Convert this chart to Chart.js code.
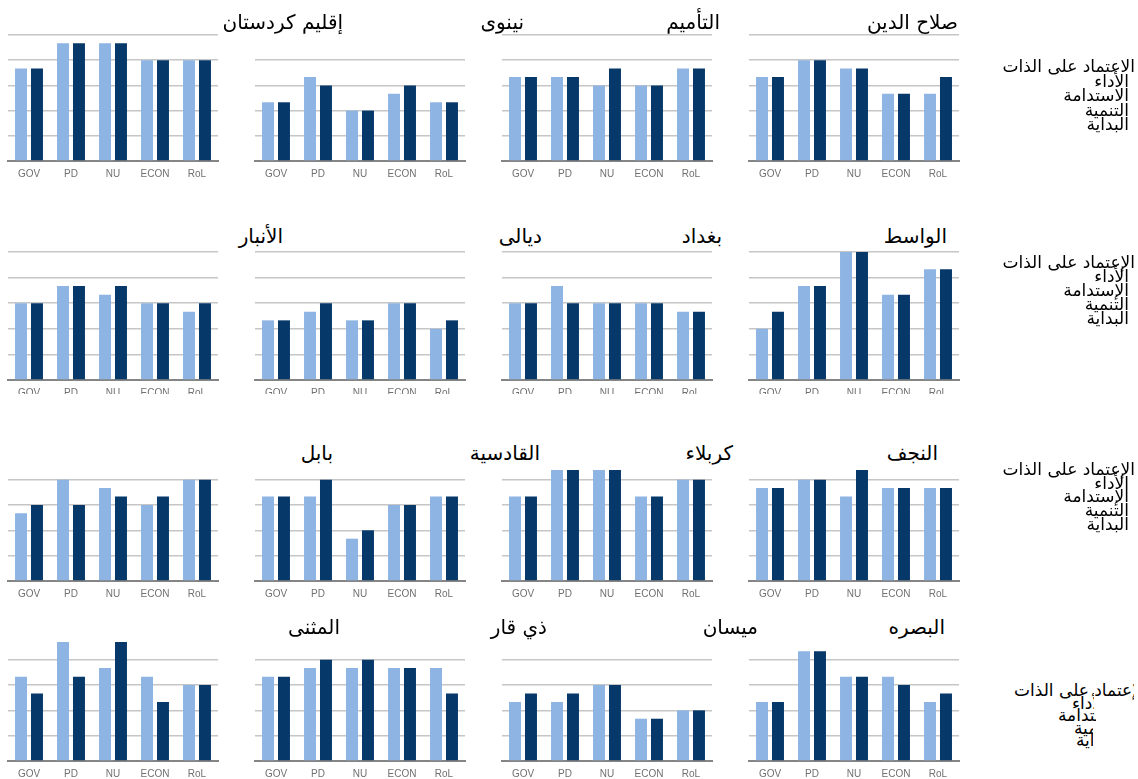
<!DOCTYPE html>
<html>
<head>
<meta charset="utf-8">
<script src="https://cdn.jsdelivr.net/npm/chart.js@4"></script>
<style>
  body { margin:0; width:1138px; height:779px; background:#fff; position:relative; overflow:hidden;
         font-family:"DejaVu Sans", sans-serif; }
  .panel { position:absolute; overflow:hidden; }
  .title { position:absolute; direction:rtl; white-space:nowrap; font-size:20px; color:#000; line-height:24px; }
  .leg   { position:absolute; white-space:nowrap; font-size:17px; color:#000; overflow:hidden; height:20px; }
  .leg span { position:absolute; top:0; line-height:20px; direction:rtl; }
</style>
</head>
<body>
<script>
/* ===== data ===== */
const categories = ["GOV", "PD", "NU", "ECON", "RoL"];

// each row: 4 panels, left -> right
const row1Light = [[3.67,4.67,4.67,4,4],[2.33,3.33,2,2.67,2.33],[3.33,3.33,3,3,3.67],[3.33,4,3.67,2.67,2.67]];
const row1Dark  = [[3.67,4.67,4.67,4,4],[2.33,3,2,3,2.33],[3.33,3.33,3.67,3,3.67],[3.33,4,3.67,2.67,3.33]];
const row2Light = [[3,3.67,3.33,3,2.67],[2.33,2.67,2.33,3,2],[3,3.67,3,3,2.67],[2,3.67,5,3.33,4.33]];
const row2Dark  = [[3,3.67,3.67,3,3],[2.33,3,2.33,3,2.33],[3,3,3,3,2.67],[2.67,3.67,5,3.33,4.33]];
const row3Light = [[2.67,4,3.67,3,4],[3.33,3.33,1.67,3,3.33],[3.33,4.67,4.67,3.33,4],[3.67,4,3.33,3.67,3.67]];
const row3Dark  = [[3,3,3.33,3.33,4],[3.33,4,2,3,3.33],[3.33,4.67,4.67,3.33,4],[3.67,4,4.67,3.67,3.67]];
const row4Light = [[3.33,5,3.67,3.33,3],[3.33,3.67,3.67,3.67,3.67],[2.33,2.33,3,1.67,2],[2.33,4.33,3.33,3.33,2.33]];
const row4Dark  = [[2.67,3.33,5,2.33,3],[3.33,4,4,3.67,2.67],[2.67,2.67,3,1.67,2],[2.33,4.33,3.33,3,2.67]];

const gridValues = [1, 2, 3, 4, 5];

const titlesRow1 = ["صلاح الدين", "التأميم", "نينوى", "إقليم كردستان"];
const titlesRow2 = ["الواسط", "بغداد", "ديالى", "الأنبار"];
const titlesRow3 = ["النجف", "كربلاء", "القادسية", "بابل"];
const titlesRow4 = ["البصره", "ميسان", "ذي قار", "المثنى"];

const legendRow1 = ["الاعتماد على الذات", "الأداء", "الاستدامة", "التنمية", "البداية"];
const legendRow2 = ["الإعتماد على الذات", "الأداء", "الإستدامة", "التنمية", "البداية"];

/* ===== layout ===== */
const colLeft = [8, 255, 502, 749];
const rows = [
  { light: row1Light, dark: row1Dark, top: 35,  base: 161, max: 5,    cut: null },
  { light: row2Light, dark: row2Dark, top: 252, base: 380, max: 5,    cut: 394 },
  { light: row3Light, dark: row3Dark, top: 470, base: 581, max: 4.38, cut: null },
  { light: row4Light, dark: row4Dark, top: 642, base: 761, max: 4.7,  cut: null }
];
const noTopLine = { "0-1": true };

const LIGHT = "#8db4e2";
const DARK = "#06386a";
const PAD = 3, XAXIS_H = 17;

function makePanel(r, c) {
  const row = rows[r];
  const div = document.createElement("div");
  div.className = "panel";
  const h = PAD + (row.base - row.top) + XAXIS_H;
  div.style.left = (colLeft[c] - PAD) + "px";
  div.style.top = (row.top - PAD) + "px";
  div.style.width = (210 + PAD * 2) + "px";
  div.style.height = (row.cut ? row.cut - (row.top - PAD) : h) + "px";
  const cv = document.createElement("canvas");
  cv.width = 210 + PAD * 2;
  cv.height = h;
  cv.style.width = cv.width + "px";
  cv.style.height = h + "px";
  div.appendChild(cv);
  document.body.appendChild(div);

  const hideTop = noTopLine[r + "-" + c];
  const ticksWanted = gridValues.filter(v => v <= row.max && !(hideTop && v >= 5));

  new Chart(cv, {
    type: "bar",
    data: {
      labels: categories,
      datasets: [
        { data: row.light[c], backgroundColor: LIGHT, clip: 0 },
        { data: row.dark[c], backgroundColor: DARK, clip: 0 }
      ]
    },
    options: {
      responsive: false,
      animation: false,
      devicePixelRatio: 1,
      layout: { padding: { left: PAD, right: PAD, top: PAD, bottom: 0 } },
      plugins: { legend: { display: false }, tooltip: { enabled: false } },
      datasets: { bar: { categoryPercentage: 0.76, barPercentage: 0.75 } },
      scales: {
        x: {
          grid: { display: false, drawTicks: false },
          border: { display: true, color: "#858585", width: 2 },
          ticks: { color: "#707070", padding: 7, maxRotation: 0, autoSkip: false,
                   font: { family: "'Liberation Sans Narrow', 'Liberation Sans', sans-serif", size: 10 } },
          afterFit: s => { s.height = XAXIS_H; }
        },
        y: {
          min: 0,
          max: row.max,
          ticks: { display: false },
          border: { display: false },
          grid: { color: "#c6c6c6", lineWidth: 1.5, drawTicks: false },
          afterBuildTicks: s => { s.ticks = [{ value: 0 }].concat(ticksWanted.map(v => ({ value: v }))); },
          afterFit: s => { s.width = 0; }
        }
      }
    }
  });
}

for (let r = 0; r < 4; r++) for (let c = 0; c < 4; c++) makePanel(r, c);

/* ===== titles ===== */
function addTitle(text, right, cy) {
  const d = document.createElement("div");
  d.className = "title";
  d.textContent = text;
  d.style.right = (1138 - right) + "px";
  d.style.top = (cy - 12) + "px";
  document.body.appendChild(d);
}
const titleRights = [[958, 720, 524, 343], [947, 722, 542, 283], [938, 733, 540, 333], [945, 758, 547, 340]];
const titleY = [22, 236, 453, 627];
[titlesRow1, titlesRow2, titlesRow3, titlesRow4].forEach((list, r) => {
  // titles listed right -> left
  list.forEach((t, i) => addTitle(t, titleRights[r][i], titleY[r]));
});

/* ===== right-side labels ===== */
// normal block: text right-aligned at the given edge
function addLegend(list, firstY, step) {
  list.forEach((t, i) => {
    const d = document.createElement("div");
    d.className = "leg";
    const right = i === 0 ? 1135 : 1129;
    d.style.left = "900px";
    d.style.width = (right - 900) + "px";
    d.style.top = (firstY + i * step - 10) + "px";
    const s = document.createElement("span");
    s.textContent = t;
    s.style.right = "0px";
    d.appendChild(s);
    document.body.appendChild(d);
  });
}
// last block: text starts at given left edge and runs out past the clip
function addCutLegend(list, firstY, step, lefts, clipRights) {
  list.forEach((t, i) => {
    const d = document.createElement("div");
    d.className = "leg";
    d.style.left = lefts[i] + "px";
    d.style.width = (clipRights[i] - lefts[i]) + "px";
    d.style.top = (firstY + i * step - 10) + "px";
    const s = document.createElement("span");
    s.textContent = t;
    s.style.left = "0px";
    d.appendChild(s);
    document.body.appendChild(d);
  });
}
addLegend(legendRow1, 66, 14.5);
addLegend(legendRow2, 262, 14);
addLegend(legendRow2, 469, 13.7);
addCutLegend(legendRow2, 690, 12.5, [1014, 1072, 1058, 1074, 1076], [1134, 1094, 1096, 1093, 1093]);
</script>
</body>
</html>
